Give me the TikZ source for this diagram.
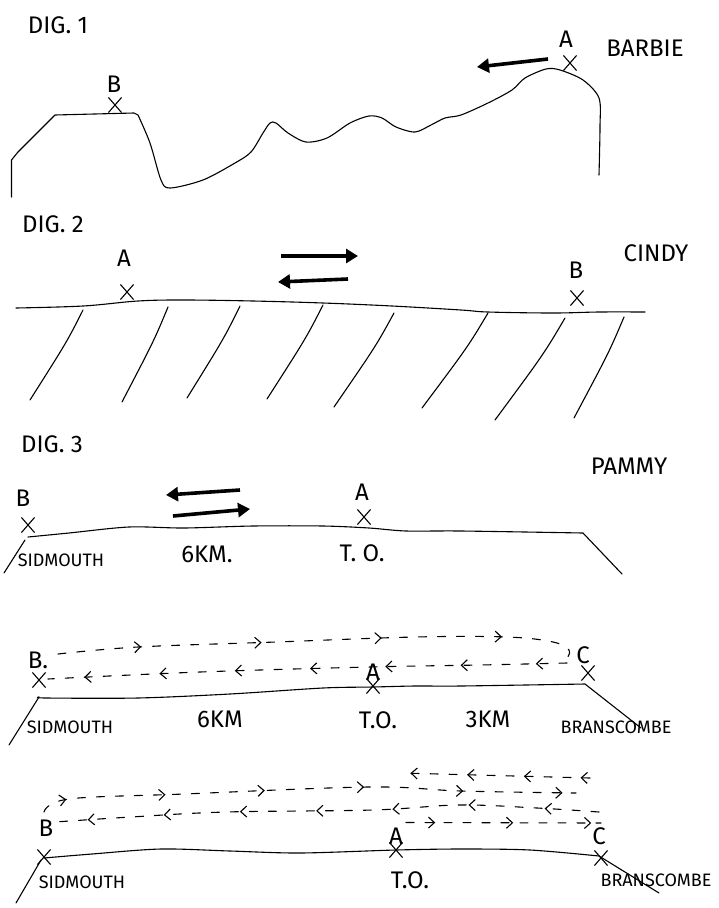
\documentclass[tikz,border=0pt]{standalone}
\usepackage{fontspec}
\setmainfont{Fira Sans}
\usetikzlibrary{arrows.meta,decorations.markings,shapes.misc}
\begin{document}
\begin{tikzpicture}[x=1pt,y=-1pt,
 pen/.style={line width=1.1pt,line cap=round,line join=round},
 hand/.style={font=\fontsize{24}{24}\selectfont,inner sep=0pt},
 title/.style={font=\fontsize{24}{24}\selectfont,inner sep=0pt},
 place/.style={font=\fontsize{18}{18}\selectfont,inner sep=0pt},
 xmark/.style={cross out,draw,line width=1.1pt,minimum width=12pt,minimum height=14pt,inner sep=0pt},
 bold/.style={line width=3.6pt,-{Triangle[length=12pt,width=14pt]}},
 dsh/.style={pen,dash pattern=on 8pt off 11pt},
 arrs/.style={postaction={decorate},decoration={markings,
   mark=between positions #1 with {\arrow[line width=1.1pt,solid]{Straight Barb[length=6pt,width=11pt]}}}},
]
\useasboundingbox (0,0) rectangle (719,908);

% ---------------- DIG. 1
\node[title] (t1) at (58,25) {DIG. 1};
\node[hand] (barbie) at (645,48) {BARBIE};
\node[hand] (a1) at (566,39) {A};
\node[xmark] (xa1) at (570,63) {};
\node[hand] (b1) at (114,84) {B};
\node[xmark] (xb1) at (115,105) {};
\coordinate (ar1s) at (548,59);
\coordinate (ar1e) at (477,67);
\draw[bold] (ar1s) -- (ar1e);
\draw[pen] (11.5,197) -- (11.5,160) -- (18,152) -- (55,115) -- (134,113) -- (138,115)
  plot[smooth,tension=0.5] coordinates {(138,115) (150,143) (161,180) (170,188) (203,180) (235,163)
  (251,152) (263,133) (270,123) (276,123) (288,133) (306,142) (327,138) (350,123) (369,116)
  (382,118) (396,127) (415,132) (431,125) (445,118) (461,115) (488,103) (512,90) (525,78)
  (546,69) (560,70) (583,80) (599,98) (600,127) (599,175)};

% ---------------- DIG. 2
\node[title] (t2) at (53,224) {DIG. 2};
\node[hand] (cindy) at (656,253) {CINDY};
\node[hand] (a2) at (124,258) {A};
\node[xmark] (xa2) at (127,292) {};
\node[hand] (b2) at (576,270) {B};
\node[xmark] (xb2) at (577,298) {};
\coordinate (ar2s) at (281,256);
\coordinate (ar2e) at (358,256);
\coordinate (ar3s) at (348,279);
\coordinate (ar3e) at (278,282);
\draw[bold] (ar2s) -- (ar2e);
\draw[bold] (ar3s) -- (ar3e);
\draw[pen] plot[smooth,tension=0.6] coordinates {(16,308) (83,306) (138,301) (184,300) (253,301)
  (323,303) (392,306) (461,310) (488,312) (553,313) (599,312) (645,312)};
\foreach \a/\b/\c/\d in {83/310/30/400, 168/307/122/402, 240/306/187/398, 323/305/267/399,
  394/313/334/407, 488/313/422/408, 565/318/495/420, 624/317/574/418}
  \draw[pen] (\a,\b) .. controls ({\a-0.3*(\a-\c)},{\b+0.35*(\d-\b)}) .. (\c,\d);

% ---------------- DIG. 3
\node[title] (t3) at (52,444) {DIG. 3};
\node[hand] (pammy) at (629,466) {PAMMY};
\node[hand] (b3) at (23,498) {B};
\node[xmark] (xb3) at (28,525) {};
\node[hand] (a3) at (362,492) {A};
\node[xmark] (xa3) at (364,517) {};
\node[place] (sid3) at (61,560) {SIDMOUTH};
\node[hand] (km3) at (207,554) {6KM.};
\node[hand] (to3) at (362,553) {T. O.};
\coordinate (ar4s) at (240,490);
\coordinate (ar4e) at (166,495);
\coordinate (ar5s) at (173,516);
\coordinate (ar5e) at (250,509);
\draw[bold] (ar4s) -- (ar4e);
\draw[bold] (ar5s) -- (ar5e);
\draw[pen] (4,573) -- (25,540);
\draw[pen] plot[smooth,tension=0.5] coordinates {(28,537) (69,533) (129,527) (184,528) (253,526)
  (323,526) (369,528) (406,531) (461,531) (583,533)} -- (622,574);

% ---------------- DIG. 4
\node[hand] (b4) at (38,660) {B.};
\node[xmark] (xb4) at (39,680) {};
\node[hand] (a4) at (373,672) {A};
\node[xmark] (xa4) at (373,686) {};
\node[hand] (c4) at (583,655) {C};
\node[xmark] (xc4) at (588,673) {};
\node[place] (sid4) at (70,727) {SIDMOUTH};
\node[hand] (km4a) at (220,719) {6KM};
\node[hand] (to4) at (378,720) {T.O.};
\node[hand] (km4b) at (488,719) {3KM};
\node[place] (bra4) at (616,727) {BRANSCOMBE};
\draw[pen] (9,745) -- (39,697);
\draw[pen] plot[smooth,tension=0.5] coordinates {(39,697) (46,698) (138,698) (230,694) (323,688)
  (373,687) (415,686) (461,686) (585,684)} -- (641,728);
\draw[dsh,arrs={0.16 and 0.85 step 0.23}] plot[smooth,tension=0.6] coordinates {(58,654) (138,647) (276,642)
  (415,637) (507,637) (553,642) (569,650) (567,658)};
\draw[dsh,arrs={0.06 and 0.95 step 0.145}] plot[smooth,tension=0.6] coordinates {(567,663) (480,665)
  (369,667) (200,672) (48,679)};

% ---------------- DIG. 5
\node[hand] (b5) at (46,828) {B};
\node[xmark] (xb5) at (44,857) {};
\node[hand] (a5) at (396,836) {A};
\node[xmark] (xa5) at (396,850) {};
\node[hand] (c5) at (599,836) {C};
\node[xmark] (xc5) at (601,858) {};
\node[place] (sid5) at (82,882) {SIDMOUTH};
\node[hand] (to5) at (410,880) {T.O.};
\node[place] (bra5) at (656,880) {BRANSCOMBE};
\draw[pen] (16,903) -- (41,860);
\draw[pen] plot[smooth,tension=0.5] coordinates {(44,858) (92,854) (161,849) (230,851) (300,853)
  (396,850) (461,849) (530,850) (599,856)} -- (659,893);
\draw[dsh,arrs={0.05 and 0.99 step 0.185}] plot[smooth,tension=0.6] coordinates {(44,812) (69,799)
  (184,794) (369,787) (461,791) (576,793)};
\draw[dsh,arrs={0.1 and 0.99 step 0.14}] plot[smooth,tension=0.6] coordinates {(599,812) (537,808)
  (459,805) (373,810) (226,812) (131,817) (55,822)};
\draw[dsh,arrs={0.05 and 0.99 step 0.3}] (590,778) -- (401,773);
\draw[dsh,arrs={0.15 and 0.99 step 0.4}] (406,822.5) -- (601,823);
\end{tikzpicture}
\end{document}
